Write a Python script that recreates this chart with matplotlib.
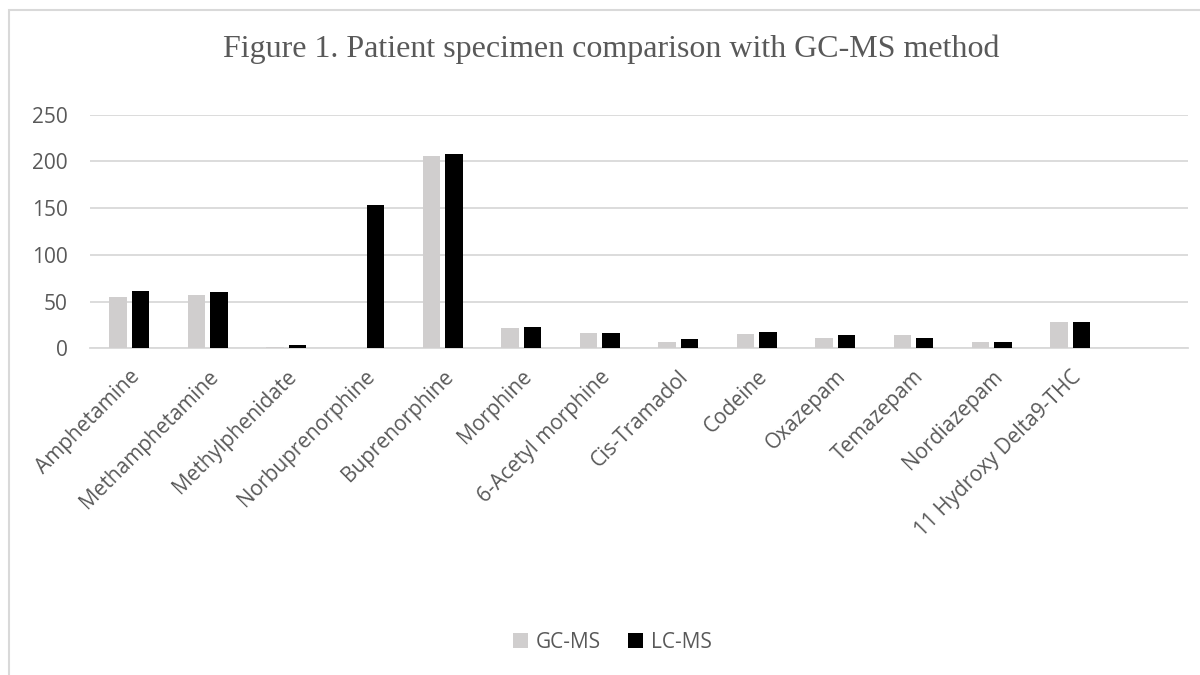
import matplotlib
matplotlib.use("Agg")
import matplotlib.pyplot as plt
import numpy as np
from matplotlib.patches import Rectangle

categories = ["Amphetamine", "Methamphetamine", "Methylphenidate", "Norbuprenorphine",
              "Buprenorphine", "Morphine", "6-Acetyl morphine", "Cis-Tramadol", "Codeine",
              "Oxazepam", "Temazepam", "Nordiazepam", "11 Hydroxy Delta9-THC", ""]
gc_ms = [55.2, 56.7, 1.4, 0, 205.8, 21.7, 16.4, 6.4, 15.3, 11.4, 14.2, 6.4, 28.5, 0]
lc_ms = [61.3, 60.6, 3.5, 153.4, 207.9, 22.8, 16.6, 9.6, 17.4, 14.2, 11.4, 6.6, 28.5, 0]
yticks = [0, 50, 100, 150, 200, 250]
title = "Figure 1. Patient specimen comparison with GC-MS method"

txt = "#595959"
fig = plt.figure(figsize=(12, 6.75), dpi=100)
ax = fig.add_axes([0.075, 1 - 348.3 / 675, (1188 - 90) / 1200, (348.3 - 114.7) / 675])

x = np.arange(len(categories))
w = 0.223
ax.bar(x - 0.143, gc_ms, w, color="#d0cece", label="GC-MS", zorder=3)
ax.bar(x + 0.143, lc_ms, w, color="#000000", label="LC-MS", zorder=3)

ax.set_xlim(-0.5, len(categories) - 0.5)
ax.set_ylim(0, 250)
ax.set_yticks(yticks)
ax.set_yticklabels([str(v) for v in yticks], fontfamily="Open Sans", fontsize=15, color=txt)
ax.yaxis.grid(True, color="#d9d9d9", linewidth=1.3, zorder=0)
ax.set_xticks(x)
ax.set_xticklabels(categories, rotation=45, ha="right", rotation_mode="anchor",
                   fontfamily="Open Sans", fontsize=15, color=txt)
ax.tick_params(axis="both", length=0)
ax.tick_params(axis="y", pad=16)
ax.tick_params(axis="x", pad=13)
for s in ["top", "right", "left"]:
    ax.spines[s].set_visible(False)
ax.spines["bottom"].set_color("#d9d9d9")
ax.spines["bottom"].set_linewidth(1.3)

fig.text(0.509, 1 - 49 / 675, title, ha="center", va="center",
         fontfamily="Liberation Serif", fontsize=23, color=txt)

leg = fig.legend(loc="center", bbox_to_anchor=(0.51, 1 - 642 / 675), ncol=2, frameon=False,
                 prop={"family": "Open Sans", "size": 15}, handlelength=0.75, handleheight=0.75,
                 handletextpad=0.35, columnspacing=1.3)
for t in leg.get_texts():
    t.set_color(txt)

fig.patches.append(Rectangle((9 / 1200, -0.1), 1.2, 1 - 9.5 / 675 + 0.1, transform=fig.transFigure,
                             fill=False, edgecolor="#d9d9d9", linewidth=1.5))

fig.savefig("out.png", dpi=100)
